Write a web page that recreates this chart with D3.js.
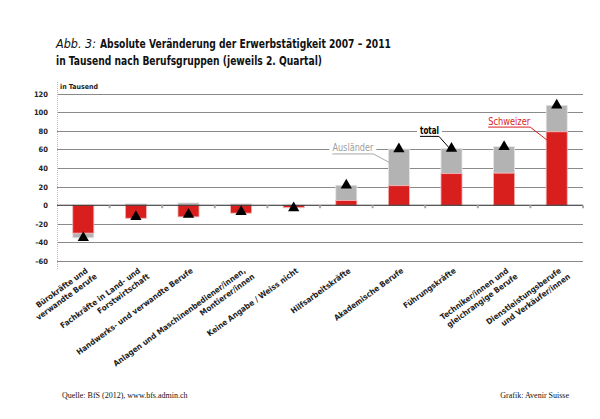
<!DOCTYPE html>
<html lang="de">
<head>
<meta charset="UTF-8">
<script src="https://d3js.org/d3.v7.min.js"></script>
<style>
  body { margin: 0; background: #fff; }
  svg { display: block; }
  .cond { font-family: "DejaVu Sans Condensed", "Liberation Sans Narrow", sans-serif; }
  .serif { font-family: "Liberation Serif", "DejaVu Serif", serif; }
</style>
</head>
<body>
<svg width="600" height="419"></svg>
<script>
// categories (label lines)
var categories = [
  ["Bürokräfte und", "verwandte Berufe"],
  ["Fachkräfte in Land- und", "Forstwirtschaft"],
  ["Handwerks- und verwandte Berufe"],
  ["Anlagen und Maschinenbediener/innen,", "Montierer/innen"],
  ["Keine Angabe / Weiss nicht"],
  ["Hilfsarbeitskräfte"],
  ["Akademische Berufe"],
  ["Führungskräfte"],
  ["Techniker/innen und", "gleichrangige Berufe"],
  ["Dienstleistungsberufe", "und Verkäufer/innen"]
];
var schweizer  = [-30, -14, -12.5, -8.5, -2.5, 5, 21, 34, 34.5, 79];
var auslaender = [-5, 1.5, 2.5, 1.5, -0.5, 16.5, 39.5, 27, 28.5, 28.5];
var total      = [-35, -12.5, -10, -7, -3, 21.5, 60.5, 61, 63, 107.5];
var yTicks = [-60, -40, -20, 0, 20, 40, 60, 80, 100, 120];

var svg = d3.select("svg");

var x = d3.scaleBand().domain(d3.range(categories.length)).range([57, 583]).paddingInner(0.6).paddingOuter(0.3);
var y = d3.scaleLinear().domain([-60, 120]).range([261, 93.7]);

// title
svg.append("text").attr("class", "cond").attr("x", 56).attr("y", 48)
  .attr("font-size", 12.5).attr("fill", "#111").attr("font-style", "italic")
  .attr("textLength", 40).attr("lengthAdjust", "spacingAndGlyphs")
  .text("Abb. 3:");
svg.append("text").attr("class", "cond").attr("x", 100).attr("y", 48)
  .attr("font-size", 12.5).attr("fill", "#111").attr("font-weight", "bold")
  .attr("textLength", 291).attr("lengthAdjust", "spacingAndGlyphs")
  .text("Absolute Veränderung der Erwerbstätigkeit 2007 – 2011");
svg.append("text").attr("class", "cond").attr("x", 56).attr("y", 65)
  .attr("font-size", 12.5).attr("fill", "#111").attr("font-weight", "bold")
  .attr("textLength", 266).attr("lengthAdjust", "spacingAndGlyphs")
  .text("in Tausend nach Berufsgruppen (jeweils 2. Quartal)");

// gridlines
svg.append("g").selectAll("line").data(yTicks.filter(function (d) { return d !== 0; }))
  .join("line")
  .attr("x1", 57).attr("x2", 583)
  .attr("y1", function (d) { return Math.round(y(d)) + 0.5; })
  .attr("y2", function (d) { return Math.round(y(d)) + 0.5; })
  .attr("stroke", "#8a8a8a").attr("stroke-width", 1);

// y axis (dotted)
svg.append("line").attr("x1", 57.5).attr("x2", 57.5).attr("y1", 82).attr("y2", 270)
  .attr("stroke", "#bbb").attr("stroke-dasharray", "1,1");

svg.append("g").attr("class", "cond").selectAll("text").data(yTicks).join("text")
  .attr("x", 48).attr("y", function (d) { return y(d) + 3; })
  .attr("text-anchor", "end").attr("font-size", 7.5).attr("font-weight", "bold").attr("fill", "#222")
  .text(function (d) { return d < 0 ? "\u2013" + Math.abs(d) : d; });

svg.append("text").attr("class", "cond").attr("x", 60).attr("y", 89)
  .attr("font-size", 7).attr("font-weight", "bold").attr("fill", "#222").text("in Tausend");

// stacked bars
var bars = svg.append("g");
categories.forEach(function (c, i) {
  var s = schweizer[i], a = auslaender[i];
  var aBase = (a >= 0) === (s >= 0) ? s : 0;
  bars.append("rect")
    .attr("x", x(i)).attr("width", x.bandwidth())
    .attr("y", y(Math.max(aBase, aBase + a))).attr("height", Math.abs(y(aBase) - y(aBase + a)))
    .attr("fill", "#b3b3b3").attr("stroke", "#e6e6e6").attr("stroke-width", 0.8);
  bars.append("rect")
    .attr("x", x(i)).attr("width", x.bandwidth())
    .attr("y", y(Math.max(0, s))).attr("height", Math.abs(y(0) - y(s)))
    .attr("fill", "#d91e1e").attr("stroke", "#f2b3b3").attr("stroke-width", 0.8);
});

// zero line and ticks
svg.append("line").attr("x1", 57).attr("x2", 583).attr("y1", y(0)).attr("y2", y(0))
  .attr("stroke", "#222").attr("stroke-width", 1.2);
var bounds = d3.range(categories.length + 1).map(function (i) { return 57 + i * (526 / categories.length); });
svg.append("g").selectAll("rect").data(bounds.slice(1)).join("rect")
  .attr("x", function (d) { return d - 1; }).attr("y", y(0)).attr("width", 2).attr("height", 3)
  .attr("fill", "#aaa");

// total markers
svg.append("g").selectAll("path").data(total).join("path")
  .attr("transform", function (d, i) { return "translate(" + (x(i) + x.bandwidth() / 2) + "," + y(d) + ")"; })
  .attr("d", d3.symbol().type(d3.symbolTriangle).size(55))
  .attr("fill", "#000");

// category labels
var lab = svg.append("g").attr("class", "cond");
categories.forEach(function (c, i) {
  var cx = x(i) + x.bandwidth() / 2 + 5;
  var t = lab.append("text")
    .attr("transform", "translate(" + cx + ",272) rotate(-36)")
    .attr("text-anchor", "end").attr("font-size", 8).attr("font-weight", "bold").attr("fill", "#222");
  c.forEach(function (line, k) {
    t.append("tspan").attr("x", k * 4).attr("dy", k === 0 ? 0 : 10).text(line);
  });
});

// annotations
function note(tx, ty, txt, color, weight, ex, ey, lineColor, w) {
  var g = svg.append("g");
  g.append("rect").attr("x", tx - 3).attr("y", ty - 10).attr("width", w + 6).attr("height", 13).attr("fill", "#fff");
  g.append("text").attr("class", "cond").attr("x", tx).attr("y", ty)
    .attr("font-size", 10).attr("font-weight", weight).attr("fill", color)
    .attr("textLength", w).attr("lengthAdjust", "spacingAndGlyphs").text(txt);
  g.append("line").attr("x1", tx).attr("x2", tx + w).attr("y1", ty + 2.5).attr("y2", ty + 2.5)
    .attr("stroke", lineColor).attr("stroke-width", 1);
  g.append("line").attr("x1", tx + w).attr("y1", ty + 2.5).attr("x2", ex).attr("y2", ey)
    .attr("stroke", lineColor).attr("stroke-width", 1);
}
note(x(6) - 56, y(60) + 2, "Ausländer", "#9e9e9e", "normal", x(6) + 1, y(46), "#a8a8a8", 41);
note(x(7) - 21, y(80) + 3, "total", "#000", "bold", x(7) + x.bandwidth() / 2, y(61) + 2, "#000", 19);
note(x(9) - 58, y(90) + 3, "Schweizer", "#d91e1e", "normal", x(9) + 1, y(70), "#d91e1e", 42);

// footer
svg.append("text").attr("class", "serif").attr("x", 62).attr("y", 398)
  .attr("font-size", 8).attr("fill", "#111").text("Quelle: BfS (2012), www.bfs.admin.ch");
svg.append("text").attr("class", "serif").attr("x", 569).attr("y", 398).attr("text-anchor", "end")
  .attr("font-size", 8).attr("fill", "#111").text("Grafik: Avenir Suisse");
</script>
</body>
</html>
